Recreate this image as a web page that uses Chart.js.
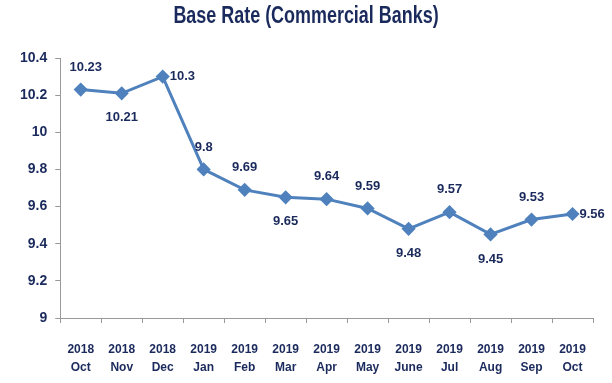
<!DOCTYPE html>
<html>
<head>
<meta charset="utf-8">
<script src="https://cdn.jsdelivr.net/npm/chart.js@4.4.1/dist/chart.umd.min.js"></script>
<style>
  html, body { margin: 0; padding: 0; background: #fff; }
  #wrap { width: 612px; height: 383px; position: relative; }
</style>
</head>
<body>
<div id="wrap"><canvas id="rate-chart"></canvas></div>
<script>
const chartTitle = "Base Rate (Commercial Banks)";
const years = ["2018", "2018", "2018", "2019", "2019", "2019", "2019", "2019", "2019", "2019", "2019", "2019", "2019"];
const months = ["Oct", "Nov", "Dec", "Jan", "Feb", "Mar", "Apr", "May", "June", "Jul", "Aug", "Sep", "Oct"];
const baseRate = [10.23, 10.21, 10.3, 9.8, 9.69, 9.65, 9.64, 9.59, 9.48, 9.57, 9.45, 9.53, 9.56];
// where each value label sits relative to its point
const labelSide = ["above", "below", "right", "above", "above", "below", "above", "above", "below", "above", "below", "above", "right"];

const NAVY = "#1b2a5c";
const FONT = "'Liberation Sans', Arial, sans-serif";

const labels = years.map((y, i) => [y, months[i]]);

// Condensed title, drawn straight on the canvas
const narrowTitle = {
  id: "narrowTitle",
  afterDraw(chart) {
    const ctx = chart.ctx;
    ctx.save();
    ctx.font = "bold 23px " + FONT;
    ctx.fillStyle = NAVY;
    ctx.textAlign = "center";
    ctx.textBaseline = "middle";
    ctx.translate(306, 17);
    ctx.scale(0.78, 1);
    ctx.fillText(chartTitle, 0, 0);
    ctx.restore();
  }
};

// Simple value label plugin
const valueLabels = {
  id: "valueLabels",
  afterDatasetsDraw(chart) {
    const ctx = chart.ctx;
    const meta = chart.getDatasetMeta(0);
    ctx.save();
    ctx.font = "bold 13px " + FONT;
    ctx.fillStyle = NAVY;
    meta.data.forEach((pt, i) => {
      const side = labelSide[i];
      let x = pt.x, y = pt.y;
      if (side === "above") {
        ctx.textAlign = "center";
        ctx.textBaseline = "bottom";
        y -= 16;
        if (i === 0) x += 5;
      } else if (side === "below") {
        ctx.textAlign = "center";
        ctx.textBaseline = "top";
        y += 18;
      } else {
        ctx.textAlign = "left";
        ctx.textBaseline = "middle";
        x += 7;
      }
      ctx.fillText(String(baseRate[i]), x, y);
    });
    ctx.restore();
  }
};

new Chart(document.getElementById("rate-chart"), {
  type: "line",
  data: {
    labels,
    datasets: [{
      data: baseRate,
      borderColor: "#4f81bd",
      backgroundColor: "#4f81bd",
      borderWidth: 3,
      pointStyle: "rectRot",
      pointRadius: 5,
      pointHoverRadius: 5,
      tension: 0
    }]
  },
  options: {
    responsive: true,
    maintainAspectRatio: false,
    animation: false,
    layout: { padding: { left: 12, right: 19, top: 58, bottom: 0 } },
    plugins: {
      legend: { display: false },
      tooltip: { enabled: false },
      title: { display: false }
    },
    scales: {
      x: {
        offset: true,
        afterFit: scale => { scale.height = 65; },
        grid: { display: true, drawOnChartArea: false, color: "#999", tickLength: 5, offset: true },
        border: { color: "#999", width: 1 },
        ticks: {
          color: NAVY,
          font: { family: FONT, size: 12, weight: "bold", lineHeight: 1.5 },
          maxRotation: 0,
          autoSkip: false,
          padding: 18
        }
      },
      y: {
        min: 9,
        max: 10.4,
        grid: { display: true, drawOnChartArea: false, color: "#999", tickLength: 5 },
        border: { color: "#999", width: 1 },
        ticks: {
          stepSize: 0.2,
          color: NAVY,
          font: { family: FONT, size: 14, weight: "bold" },
          padding: 8,
          callback: v => Math.round(v * 10) / 10
        }
      }
    }
  },
  plugins: [valueLabels, narrowTitle]
});
</script>
</body>
</html>
